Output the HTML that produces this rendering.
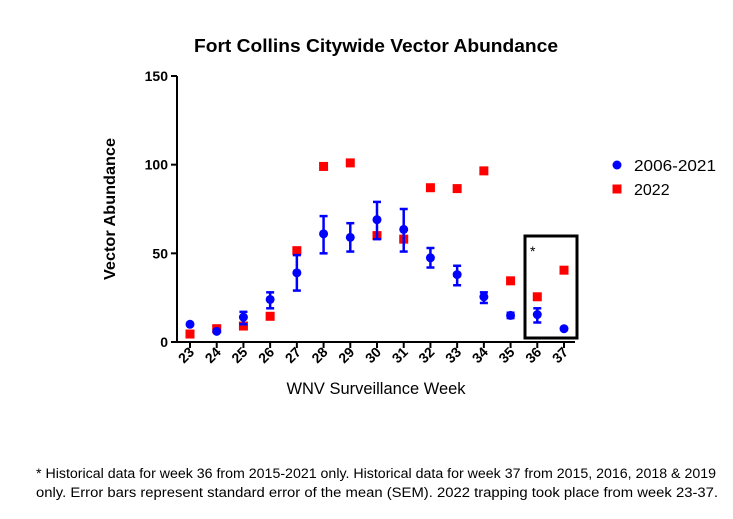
<!DOCTYPE html>
<html><head><meta charset="utf-8"><style>
body{margin:0;background:#fff;}
svg{display:block;font-family:"Liberation Sans",Arial,sans-serif;}
</style></head><body>
<svg id="chart" width="733" height="519" viewBox="0 0 733 519">
<text x="376" y="52" text-anchor="middle" font-size="18.5" font-weight="bold" textLength="364" lengthAdjust="spacingAndGlyphs">Fort Collins Citywide Vector Abundance</text>
<g id="axes"></g>
<g id="marks"></g>
<text transform="translate(115,209) rotate(-90)" text-anchor="middle" font-size="16" font-weight="bold" textLength="142" lengthAdjust="spacingAndGlyphs">Vector Abundance</text>
<text x="376" y="394" text-anchor="middle" font-size="16.5" textLength="179" lengthAdjust="spacingAndGlyphs">WNV Surveillance Week</text>
<rect x="525" y="236" width="52" height="102" fill="none" stroke="#000" stroke-width="3"/>
<text x="530" y="256" font-size="14">*</text>
<g>
<circle cx="617" cy="165" r="4.5" fill="#0000ff"/>
<text x="634" y="171" font-size="16" textLength="82" lengthAdjust="spacingAndGlyphs">2006-2021</text>
<rect x="612.5" y="184.5" width="9" height="9" fill="#ff0000"/>
<text x="634" y="195" font-size="16">2022</text>
</g>
<text x="36" y="478" font-size="13.5" textLength="680" lengthAdjust="spacingAndGlyphs">* Historical data for week 36 from 2015-2021 only. Historical data for week 37 from 2015, 2016, 2018 &amp; 2019</text>
<text x="36" y="497" font-size="13.5" textLength="682" lengthAdjust="spacingAndGlyphs">only. Error bars represent standard error of the mean (SEM). 2022 trapping took place from week 23-37.</text>
</svg>
<script>
const weeks=[23,24,25,26,27,28,29,30,31,32,33,34,35,36,37];
const histMean=[10,6,14,24,39,61,59,69,63.5,47.5,38,25.5,15,15.5,7.5];
const histLow=[10,6,10,19,29,50,51,58,51,42,32,22,13.5,11,7.5];
const histHigh=[10,6,17,28,49,71,67,79,75,53,43,28,16.5,19,7.5];
const y2022=[4.5,7.5,9,14.5,51.5,99,101,60,58,87,86.5,96.5,34.5,25.5,40.5];
const yTicks=[0,50,100,150];
const NS="http://www.w3.org/2000/svg";
const x0=177,x1=575,yTop=76,yBot=342;
const xs=i=>190+i*(564-190)/(weeks.length-1);
const ys=v=>yBot-(v/150)*(yBot-yTop);
function mk(t,a,p){const e=document.createElementNS(NS,t);for(const k in a)e.setAttribute(k,a[k]);p.appendChild(e);return e;}
const ax=document.getElementById('axes'),mg=document.getElementById('marks');
let e=mk('line',{x1:x0,y1:yTop,x2:x0,y2:yBot,stroke:'#000','stroke-width':2},ax);


e=mk('line',{x1:x0-1,y1:yBot,x2:x1,y2:yBot,stroke:'#000','stroke-width':2},ax);


yTicks.forEach(v=>{
 mk('line',{x1:x0-6,y1:ys(v),x2:x0,y2:ys(v),stroke:'#000','stroke-width':2},ax);
 const t=mk('text',{x:x0-9,y:ys(v)+5,'text-anchor':'end','font-size':14,'font-weight':'bold'},ax);
 t.textContent=v;
 
 
});
weeks.forEach((w,i)=>{
 const x=xs(i);
 mk('line',{x1:x,y1:yBot,x2:x,y2:yBot+6,stroke:'#000','stroke-width':2},ax);
 const t=mk('text',{x:0,y:0,'text-anchor':'end','font-size':14,'font-weight':'bold',transform:`translate(${x+5},${yBot+11}) rotate(-45)`},ax);
 t.textContent=w;
 
 
 const r=mk('rect',{x:x-4.5,y:ys(y2022[i])-4.5,width:9,height:9,fill:'#ff0000'},mg);
 
 
 const g=mk('g',{stroke:'#0000ff','stroke-width':2.5},mg);
 
 
 if(histHigh[i]-histLow[i]>1){
  mk('line',{x1:x,y1:ys(histLow[i]),x2:x,y2:ys(histHigh[i])},g);
  mk('line',{x1:x-4,y1:ys(histLow[i]),x2:x+4,y2:ys(histLow[i])},g);
  mk('line',{x1:x-4,y1:ys(histHigh[i]),x2:x+4,y2:ys(histHigh[i])},g);
 }
 const c=mk('circle',{cx:x,cy:ys(histMean[i]),r:4.5,fill:'#0000ff'},mg);
 
 
});
</script>
</body></html>
